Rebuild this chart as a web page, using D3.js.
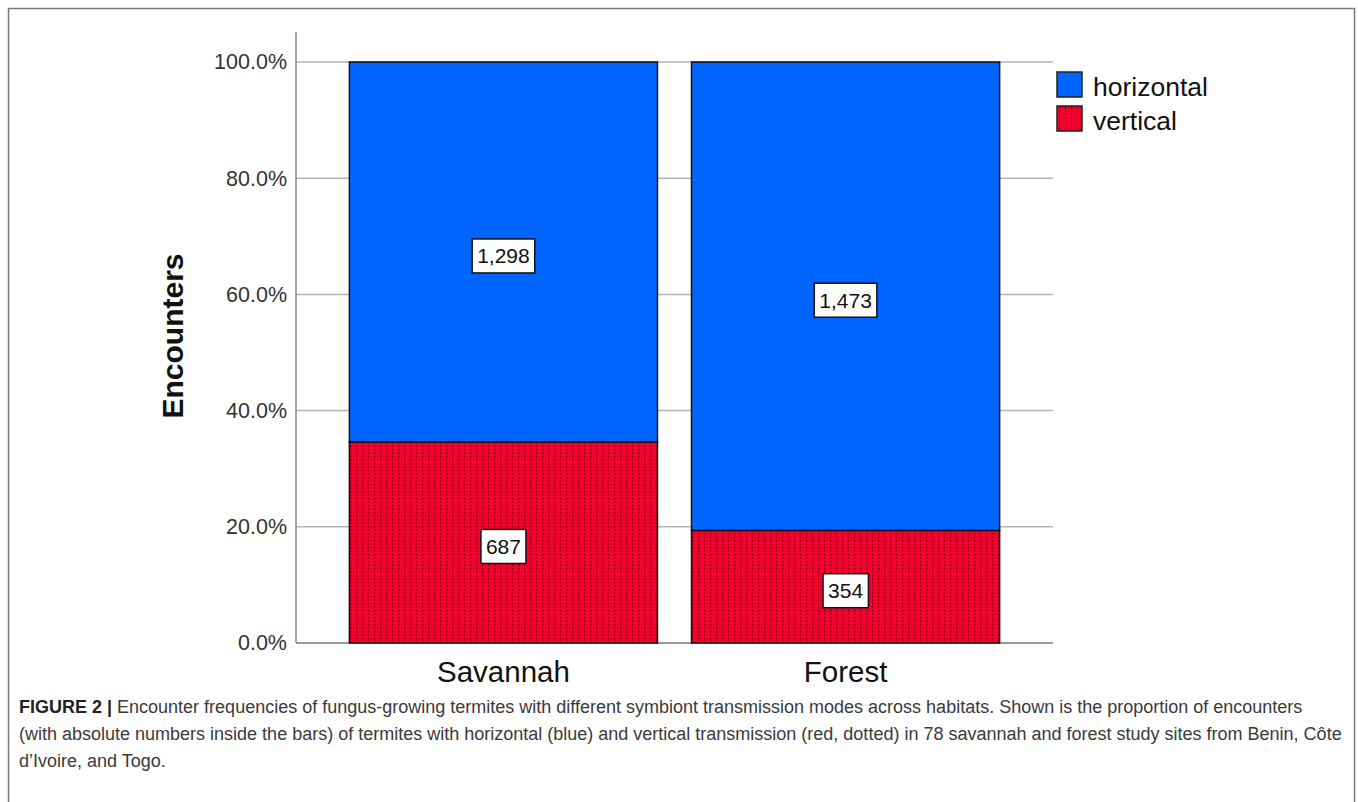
<!DOCTYPE html>
<html>
<head>
<meta charset="utf-8">
<script src="https://cdn.jsdelivr.net/npm/d3@7"></script>
<style>
  body { margin: 0; background: #fff; }
  svg text { font-family: "Liberation Sans", Arial, sans-serif; }
</style>
</head>
<body>
<div id="chart"></div>
<script>
const categories = ['Savannah', 'Forest']
const modes = ['vertical', 'horizontal']
const horizontalCounts = [1298, 1473]
const verticalCounts = [687, 354]
const yTicks = [0, 0.2, 0.4, 0.6, 0.8, 1.0]
const legendItems = ['horizontal', 'vertical']
const colors = { horizontal: '#0064ff', vertical: '#f5002f' }
const captionLines = [
  'Encounter frequencies of fungus-growing termites with different symbiont transmission modes across habitats. Shown is the proportion of encounters',
  '(with absolute numbers inside the bars) of termites with horizontal (blue) and vertical transmission (red, dotted) in 78 savannah and forest study sites from Benin, Côte',
  'd\u2019Ivoire, and Togo.'
]

const W = 1358, H = 802
const svg = d3.select('#chart').append('svg').attr('width', W).attr('height', H)

// pattern for the dotted red fill
const defs = svg.append('defs')
const pat = defs.append('pattern').attr('id', 'dots')
  .attr('patternUnits', 'userSpaceOnUse').attr('width', 6).attr('height', 3.5)
pat.append('rect').attr('width', 6).attr('height', 3.5).attr('fill', colors.vertical)
pat.append('rect').attr('x', 2).attr('y', 1).attr('width', 1.3).attr('height', 1.3).attr('fill', '#5a000e')

// frame (open at bottom)
svg.append('path').attr('d', `M8.5,${H} V8.5 H1354.5 V${H}`)
  .attr('fill', 'none').attr('stroke', '#777').attr('stroke-width', 1.5)

const x = d3.scaleBand().domain(categories).range([296, 1053])
  .paddingInner(0.0994).paddingOuter(0.156)
const y = d3.scaleLinear().domain([0, 1]).range([643, 62])

const rows = categories.map((c, i) => {
  const tot = horizontalCounts[i] + verticalCounts[i]
  return { cat: c, vertical: verticalCounts[i] / tot, horizontal: horizontalCounts[i] / tot,
    counts: { vertical: verticalCounts[i], horizontal: horizontalCounts[i] } }
})
const stacked = d3.stack().keys(modes)(rows)

// gridlines
svg.append('g').selectAll('line').data(yTicks.filter(d => d > 0)).join('line')
  .attr('x1', 296).attr('x2', 1053)
  .attr('y1', d => y(d)).attr('y2', d => y(d))
  .attr('stroke', '#b4b4b4').attr('stroke-width', 1.5)

// y axis
const yAxis = svg.append('g').attr('transform', 'translate(296,0)')
  .call(d3.axisLeft(y).tickValues(yTicks).tickFormat(d3.format('.1%')).tickSize(0).tickPadding(9))
yAxis.select('.domain').remove()
yAxis.selectAll('text').attr('font-size', 21.5).attr('fill', '#333')
  .attr('font-family', '"Liberation Sans", Arial, sans-serif')
svg.append('line').attr('x1', 296).attr('x2', 296).attr('y1', 32).attr('y2', 643)
  .attr('stroke', '#888').attr('stroke-width', 1.5)
svg.append('line').attr('x1', 296).attr('x2', 1053).attr('y1', 643).attr('y2', 643)
  .attr('stroke', '#777').attr('stroke-width', 1.5)

// bars
const layer = svg.append('g').selectAll('g').data(stacked).join('g')
  .attr('fill', d => d.key === 'vertical' ? 'url(#dots)' : colors.horizontal)
layer.selectAll('rect').data(d => d).join('rect')
  .attr('x', d => x(d.data.cat)).attr('width', x.bandwidth())
  .attr('y', d => y(d[1])).attr('height', d => y(d[0]) - y(d[1]))
  .attr('stroke', '#111').attr('stroke-width', 1.5)

// value labels
stacked.forEach(s => {
  s.forEach(d => {
    const cx = x(d.data.cat) + x.bandwidth() / 2
    const cy = (y(d[0]) + y(d[1])) / 2 + 4
    const g = svg.append('g')
    const t = g.append('text').attr('x', cx).attr('y', cy).attr('dy', '0.35em')
      .attr('text-anchor', 'middle').attr('font-size', 21).attr('fill', '#111')
      .text(d3.format(',')(d.data.counts[s.key]))
    const bb = t.node().getBBox()
    g.insert('rect', 'text').attr('x', bb.x - 5).attr('y', cy - 17)
      .attr('width', bb.width + 10).attr('height', 34)
      .attr('fill', '#fff').attr('stroke', '#111').attr('stroke-width', 1.5)
  })
})

// category labels
svg.append('g').selectAll('text').data(categories).join('text')
  .attr('x', d => x(d) + x.bandwidth() / 2).attr('y', 682)
  .attr('text-anchor', 'middle').attr('font-size', 29.5).attr('fill', '#111')
  .text(d => d)

// y axis title
svg.append('text').attr('transform', 'translate(183,336) rotate(-90)')
  .attr('text-anchor', 'middle').attr('font-size', 30).attr('font-weight', 'bold')
  .attr('fill', '#111').text('Encounters')

// legend
const leg = svg.append('g').selectAll('g').data(legendItems).join('g')
  .attr('transform', (d, i) => `translate(1057,${72 + i * 34})`)
leg.append('rect').attr('width', 25).attr('height', 25)
  .attr('fill', d => d === 'vertical' ? 'url(#dots)' : colors.horizontal)
  .attr('stroke', '#222').attr('stroke-width', 1.5)
leg.append('text').attr('x', 36).attr('y', 24).attr('font-size', 26.5).attr('fill', '#111')
  .text(d => d)

// caption
const cap = svg.append('g').attr('font-size', 18).attr('fill', '#3a3a3a')
captionLines.forEach((line, i) => {
  const t = cap.append('text').attr('x', 19).attr('y', 713 + i * 27)
  if (i === 0) {
    t.append('tspan').attr('font-weight', 'bold').attr('fill', '#222').text('FIGURE 2 | ')
  }
  t.append('tspan').text(line)
})
</script>
</body>
</html>
